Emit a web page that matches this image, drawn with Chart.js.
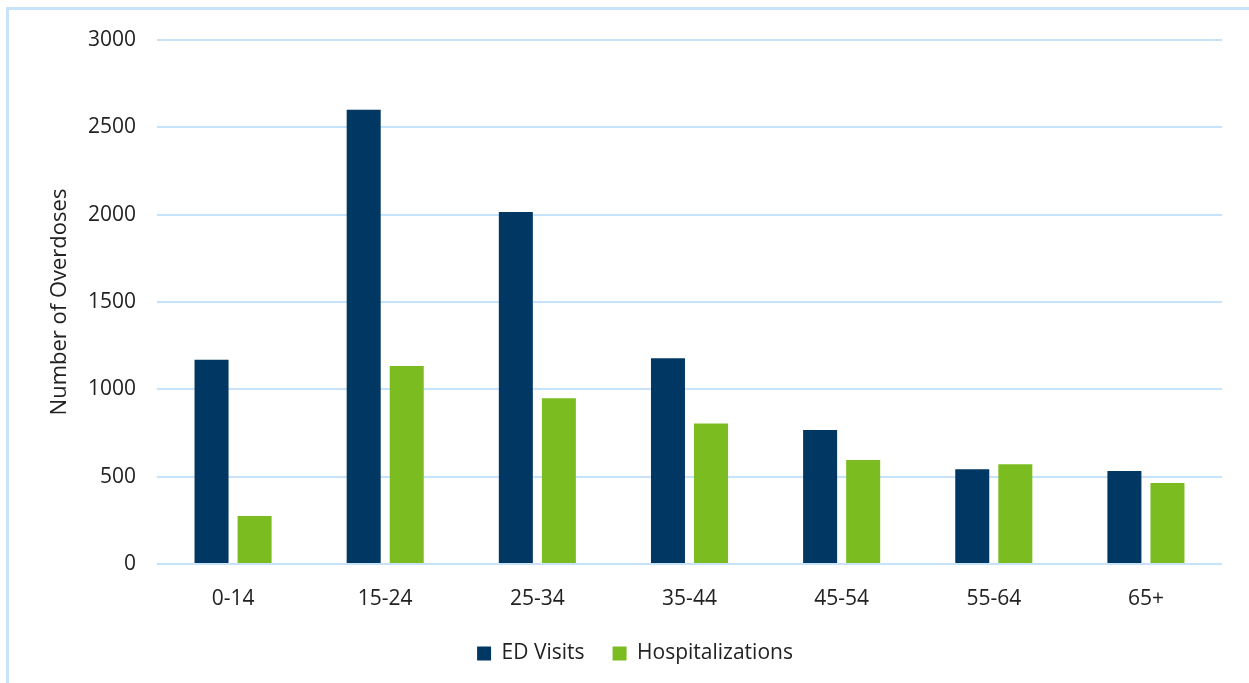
<!DOCTYPE html>
<html>
<head>
<meta charset="utf-8">
<script src="https://cdn.jsdelivr.net/npm/chart.js@4.4.1/dist/chart.umd.min.js"></script>
<style>
  html, body { margin: 0; padding: 0; background: #fff; }
  #wrap { position: relative; width: 1249px; height: 683px; }
  #frame { position: absolute; left: 6px; top: 7px; width: 1260px; height: 700px; border: 3px solid #c8e3f9; box-sizing: border-box; pointer-events: none; }
  canvas { position: absolute; left: 0; top: 0; }
</style>
</head>
<body>
<div id="wrap">
  <canvas id="c" width="1249" height="683"></canvas>
  <div id="frame"></div>
</div>
<script>
const categories = ["0-14", "15-24", "25-34", "35-44", "45-54", "55-64", "65+"];
const edVisits = [1170, 2600, 2015, 1178, 767, 542, 532];
const hospitalizations = [275, 1133, 949, 805, 595, 571, 464];
const seriesNames = ["ED Visits", "Hospitalizations"];
const yTicks = [0, 500, 1000, 1500, 2000, 2500, 3000];

const FONT = "'Open Sans', 'Liberation Sans', sans-serif";
const TEXT = "#222222";

const shiftLegend = {
  id: 'shiftLegend',
  afterLayout(chart) {
    const l = chart.legend;
    if (l) { l.left += 24; l.right += 24; }
  }
};

new Chart(document.getElementById('c'), {
  type: 'bar',
  data: {
    labels: categories,
    datasets: [
      { label: seriesNames[0], data: edVisits, backgroundColor: '#003763', borderWidth: 0,
        categoryPercentage: 0.566, barPercentage: 0.79 },
      { label: seriesNames[1], data: hospitalizations, backgroundColor: '#7bbd21', borderWidth: 0,
        categoryPercentage: 0.566, barPercentage: 0.79 }
    ]
  },
  plugins: [shiftLegend],
  options: {
    responsive: false,
    animation: false,
    devicePixelRatio: 1,
    layout: { padding: { left: 0, right: 27, top: 40, bottom: 9 } },
    plugins: {
      legend: {
        position: 'bottom',
        labels: {
          boxWidth: 14, boxHeight: 14, padding: 28,
          color: TEXT,
          font: { family: FONT, size: 21 }
        }
      },
      tooltip: { enabled: false },
      title: { display: false }
    },
    scales: {
      x: {
        grid: { display: false, drawTicks: false },
        border: { display: false },
        ticks: { color: TEXT, padding: 22, font: { family: FONT, size: 21 } },
        afterFit: (s) => { s.height = 51; }
      },
      y: {
        min: 0, max: 3000,
        afterBuildTicks: (s) => { s.ticks = yTicks.map(v => ({ value: v })); },
        grid: { color: '#c6e3fb', lineWidth: 2, drawTicks: false },
        border: { display: false },
        ticks: { color: TEXT, padding: 21, font: { family: FONT, size: 21 },
                 callback: (v) => String(v) },
        title: {
          display: true, text: 'Number of Overdoses', color: TEXT,
          font: { family: FONT, size: 22 },
          padding: { top: 47, bottom: 0 }
        },
        afterFit: (s) => { s.width = 157; }
      }
    }
  }
});
</script>
</body>
</html>
